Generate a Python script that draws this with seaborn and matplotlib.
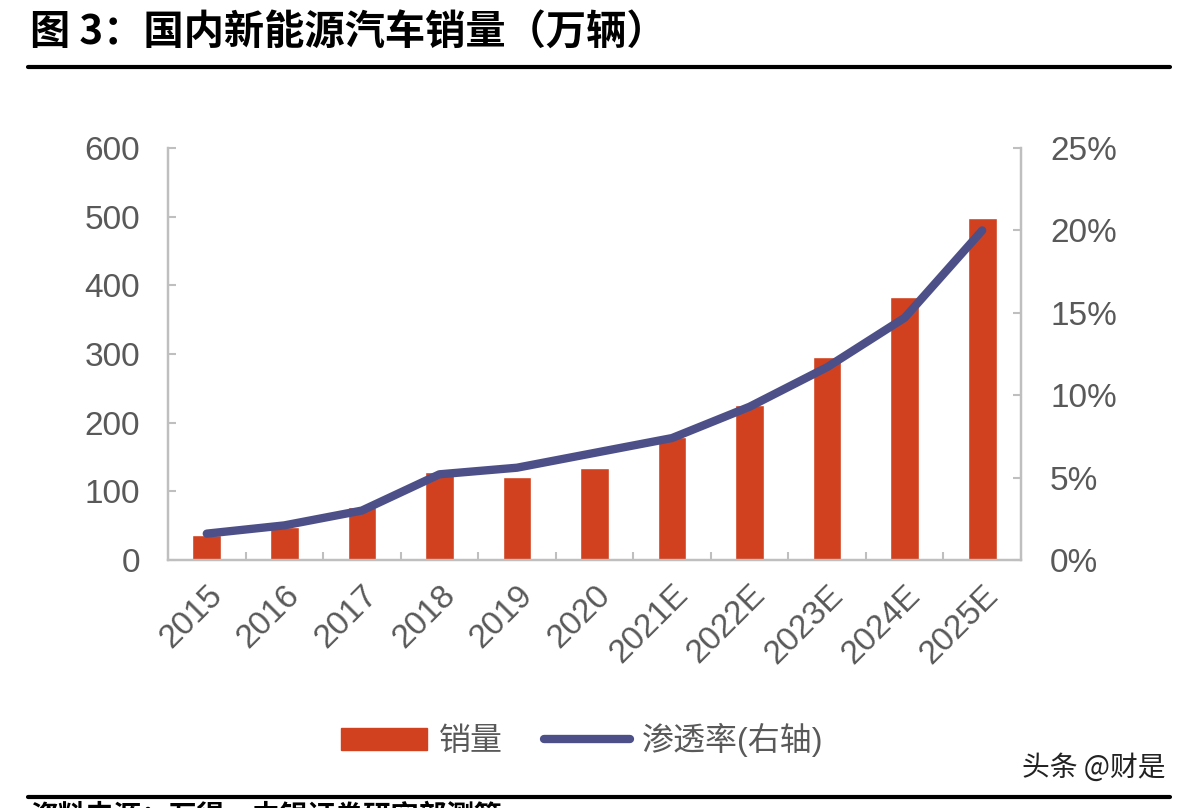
import matplotlib
matplotlib.use("Agg")
import matplotlib.pyplot as plt
import seaborn as sns
import numpy as np
import pandas as pd
from matplotlib.patches import Patch
from matplotlib.lines import Line2D
from matplotlib.ticker import FuncFormatter, FixedLocator

years = ["2015", "2016", "2017", "2018", "2019", "2020", "2021E", "2022E", "2023E", "2024E", "2025E"]
sales = [36, 48, 77, 128, 121, 134, 179, 226, 296, 383, 498]
penetration = [1.6, 2.1, 3.0, 5.2, 5.6, 6.5, 7.4, 9.3, 11.7, 14.7, 20.0]
left_ticks = [0, 100, 200, 300, 400, 500, 600]
right_ticks = [0, 5, 10, 15, 20, 25]

title = "图 3：国内新能源汽车销量（万辆）"
legend_labels = ["销量", "渗透率(右轴)"]
source_text = "资料来源：万得，中银证券研究部测算"
watermark = "头条 @财是"

sns.set_theme(style="white")
plt.rcParams["font.family"] = ["Liberation Sans", "Noto Sans CJK SC", "DejaVu Sans"]

BAR = "#D2411F"
LINE = "#4D5088"
SPINE = "#BFBFBF"
TXT = "#595959"

fig = plt.figure(figsize=(11.88, 8.08), dpi=100)
fig.patch.set_facecolor("white")
ax = fig.add_axes([168/1188, 1-560/808, (1021-168)/1188, (560-148)/808])

df = pd.DataFrame({"year": years, "sales": sales, "pos": np.arange(len(years)), "pen": penetration})
sns.barplot(data=df, x="year", y="sales", color=BAR, width=0.37, saturation=1, ax=ax)
ax.set_xlim(-0.5, len(years) - 0.5)
ax.set_ylim(0, 600)
ax.yaxis.set_major_locator(FixedLocator(left_ticks))
ax.set_xlabel("")
ax.set_ylabel("")

ax2 = ax.twinx()
sns.lineplot(data=df, x="pos", y="pen", color=LINE, linewidth=6, ax=ax2,
             solid_capstyle="round", solid_joinstyle="round")
ax2.set_ylim(0, 25)
ax2.yaxis.set_major_locator(FixedLocator(right_ticks))
ax2.yaxis.set_major_formatter(FuncFormatter(lambda v, p: f"{int(v)}%"))
ax2.set_xlim(-0.5, len(years) - 0.5)
ax2.set_xlabel("")
ax2.set_ylabel("")

for a in (ax, ax2):
    for s in a.spines.values():
        s.set_color(SPINE)
        s.set_linewidth(1.6)
    a.spines["top"].set_visible(False)
    a.grid(False)
    a.set_facecolor("none")

ax.tick_params(axis="y", direction="in", length=6, width=1.5, color=SPINE,
               labelsize=24, labelcolor=TXT, pad=20, left=True)
ax2.tick_params(axis="y", direction="in", length=6, width=1.5, color=SPINE,
                labelsize=24, labelcolor=TXT, pad=21, right=True)
ax.set_xticks(np.arange(len(years)))
ax.set_xticklabels(years, rotation=45, ha="right", va="top", rotation_mode="anchor")
ax.tick_params(axis="x", which="major", length=0, labelsize=24, labelcolor=TXT, pad=14)
ax.xaxis.set_minor_locator(FixedLocator(np.arange(0.5, len(years) - 1, 1.0)))
ax.tick_params(axis="x", which="minor", direction="in", length=6, width=1.5, color=SPINE, bottom=True)

handles = [Patch(facecolor=BAR, edgecolor=BAR),
           Line2D([0], [0], color=LINE, linewidth=6, solid_capstyle="round")]
fig.legend(handles, legend_labels, loc="center", bbox_to_anchor=(0.49, 1-740/808),
           ncol=2, frameon=False, fontsize=23, labelcolor=TXT,
           handlelength=2.7, handleheight=0.7, handletextpad=0.35, columnspacing=1.3)

fig.text(30/1188, 1-33/808, title, fontsize=29, fontweight="bold", color="black",
         va="center", ha="left", family=["Noto Sans CJK SC", "DejaVu Sans"])
fig.add_artist(Line2D([28/1188, 1170/1188], [1-67/808, 1-67/808], color="black", linewidth=3,
                      transform=fig.transFigure))
fig.add_artist(Line2D([28/1188, 1170/1188], [1-797/808, 1-797/808], color="black", linewidth=3,
                      transform=fig.transFigure))
fig.text(30/1188, 1-802/808, source_text, fontsize=20, fontweight="bold", color="black",
         va="top", ha="left", family=["Noto Sans CJK SC", "DejaVu Sans"])
fig.text(1165/1188, 1-768/808, watermark, fontsize=20, color="#222222",
         va="center", ha="right", family=["Noto Sans CJK SC", "DejaVu Sans"])

fig.savefig("out.png", dpi=100, facecolor="white")
